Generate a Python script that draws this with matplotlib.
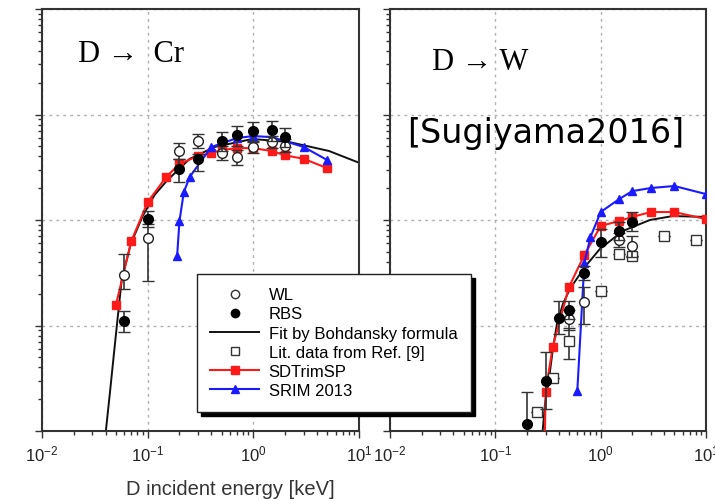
import matplotlib
matplotlib.use("Agg")
import matplotlib.pyplot as plt
from matplotlib.lines import Line2D
import numpy as np

plt.rcParams['font.family'] = ['Liberation Sans', 'DejaVu Sans']
plt.rcParams['mathtext.fontset'] = 'custom'
plt.rcParams['mathtext.rm'] = 'Liberation Sans'
plt.rcParams['mathtext.default'] = 'regular'

# ---------------- D -> Cr (left panel) ----------------
cr_fit_E = [0.039, 0.0402, 0.0439, 0.0478, 0.0521, 0.0569, 0.0692, 0.0897, 0.1164, 0.151, 0.249, 0.429, 0.98, 2.19, 5.2, 9.57, 12.0]
cr_fit_Y = [7e-6, 1e-5, 2.29e-5, 5.25e-5, 1.2e-4, 2.76e-4, 5.93e-4, 1.09e-3, 1.73e-3, 2.34e-3, 3.79e-3, 4.92e-3, 5.86e-3, 5.48e-3, 4.51e-3, 3.55e-3, 3.3e-3]

cr_sdt_E = [0.05, 0.07, 0.1, 0.15, 0.2, 0.3, 0.4, 0.5, 0.7, 1, 1.5, 2, 3, 5]
cr_sdt_Y = [1.56e-4, 6.3e-4, 1.48e-3, 2.56e-3, 3.4e-3, 4.05e-3, 4.3e-3, 4.6e-3, 4.8e-3, 4.8e-3, 4.5e-3, 4.1e-3, 3.8e-3, 3.1e-3]

cr_srim_E = [0.19, 0.2, 0.22, 0.25, 0.4, 0.7, 1, 1.5, 3, 5]
cr_srim_Y = [4.56e-4, 9.8e-4, 1.84e-3, 2.56e-3, 4.92e-3, 5.98e-3, 6.25e-3, 6.1e-3, 4.92e-3, 3.7e-3]

cr_rbs_E = [0.06, 0.1, 0.2, 0.3, 0.5, 0.7, 1, 1.5, 2]
cr_rbs_Y = [1.10e-4, 1.02e-3, 3.04e-3, 3.79e-3, 5.61e-3, 6.40e-3, 6.98e-3, 7.1e-3, 6.12e-3]
cr_rbs_lo = [8.67e-5, 8.59e-4, 2.29e-3, 2.91e-3, 4.51e-3, 5.03e-3, 5.48e-3, 5.61e-3, 4.92e-3]
cr_rbs_hi = [1.37e-4, 1.22e-3, 3.79e-3, 4.23e-3, 6.83e-3, 7.78e-3, 8.49e-3, 8.67e-3, 7.45e-3]

cr_wl_E = [0.06, 0.1, 0.2, 0.3, 0.5, 0.7, 1, 1.5, 2]
cr_wl_Y = [3.01e-4, 6.74e-4, 4.51e-3, 5.61e-3, 4.32e-3, 3.96e-3, 4.92e-3, 5.48e-3, 5.03e-3]
cr_wl_lo = [2.22e-4, 2.64e-4, 3.8e-3, 4.8e-3, 3.7e-3, 3.3e-3, 4.3e-3, 4.8e-3, 4.4e-3]
cr_wl_hi = [4.77e-4, 9.16e-4, 5.4e-3, 6.6e-3, 5.0e-3, 4.6e-3, 5.6e-3, 6.2e-3, 5.8e-3]

# ---------------- D -> W (right panel) ----------------
w_fit_E = [0.277, 0.296, 0.323, 0.352, 0.384, 0.438, 0.51, 0.708, 0.982, 1.625, 2.93, 4.84, 9.75, 12.0]
w_fit_Y = [8.4e-6, 1.80e-5, 3.11e-5, 5.98e-5, 1.03e-4, 1.60e-4, 2.22e-4, 3.59e-4, 5.31e-4, 7.87e-4, 1.0e-3, 1.09e-3, 1.07e-3, 1.06e-3]

w_sdt_E = [0.29, 0.3, 0.35, 0.5, 0.7, 1, 1.5, 2, 3, 5, 10]
w_sdt_Y = [3e-6, 2.34e-5, 6.25e-5, 2.32e-4, 4.66e-4, 8.77e-4, 9.8e-4, 1.07e-3, 1.19e-3, 1.19e-3, 1.02e-3]

w_srim_E = [0.6, 0.7, 0.8, 1, 1.5, 2, 3, 5, 10]
w_srim_Y = [2.39e-5, 3.91e-4, 6.9e-4, 1.19e-3, 1.58e-3, 1.88e-3, 2.01e-3, 2.1e-3, 1.76e-3]

w_rbs_E = [0.2, 0.3, 0.4, 0.5, 0.7, 1, 1.5, 2]
w_rbs_Y = [1.16e-5, 2.98e-5, 1.18e-4, 1.40e-4, 3.15e-4, 6.18e-4, 7.87e-4, 9.57e-4]
w_rbs_lo = [6e-6, 1.6e-5, 8.3e-5, 1.15e-4, 2.7e-4, 4.46e-4, 6.5e-4, 7.8e-4]
w_rbs_hi = [2.34e-5, 5.6e-5, 1.71e-4, 1.7e-4, 3.7e-4, 8.2e-4, 9.5e-4, 1.2e-3]

w_wl_E = [0.5, 0.7, 1.5, 2]
w_wl_Y = [1.15e-4, 1.67e-4, 6.45e-4, 5.68e-4]
w_wl_lo = [9e-5, 1.03e-4, 5.5e-4, 4.5e-4]
w_wl_hi = [1.4e-4, 2.3e-4, 7.6e-4, 7.0e-4]

w_lit_E = [0.25, 0.35, 0.5, 1, 1.5, 2, 4, 8]
w_lit_Y = [1.51e-5, 3.18e-5, 7.13e-5, 2.12e-4, 4.77e-4, 4.56e-4, 7.05e-4, 6.45e-4]
w_lit_lo = [1.51e-5, 3.18e-5, 4.8e-5, 2.12e-4, 4.77e-4, 4.56e-4, 7.05e-4, 6.45e-4]
w_lit_hi = [1.51e-5, 3.18e-5, 9.5e-5, 2.12e-4, 4.77e-4, 4.56e-4, 7.05e-4, 6.45e-4]

xtick_vals = [1e-2, 1e-1, 1e0, 1e1]
xtick_labels = ['10$^{-2}$', '10$^{-1}$', '10$^{0}$', '10$^{1}$']

legend_labels = ['WL', 'RBS', 'Fit by Bohdansky formula', 'Lit. data from Ref. [9]', 'SDTrimSP', 'SRIM 2013']

RED = '#ff1a1a'
BLUE = '#1a1aff'
W, H = 715, 502
fig = plt.figure(figsize=(W / 100, H / 100), dpi=100)

ax1 = fig.add_axes([42 / W, 1 - 432 / H, 317 / W, 422 / H])
ax2 = fig.add_axes([390 / W, 1 - 432 / H, 316 / W, 422 / H])


def yerr(y, lo, hi):
    y = np.asarray(y); lo = np.asarray(lo); hi = np.asarray(hi)
    return [y - lo, hi - y]


def style(ax):
    ax.set_xscale('log')
    ax.set_yscale('log')
    ax.set_xlim(1e-2, 1e1)
    ax.set_ylim(1e-5, 1e-1)
    ax.set_xticks(xtick_vals)
    ax.set_xticklabels(xtick_labels)
    ax.grid(True, which='major', color='#b0b0b0', ls=(0, (2, 3)), lw=1.0)
    ax.tick_params(which='both', direction='out', color='#333333', width=1.0)
    ax.tick_params(which='major', length=5)
    ax.tick_params(which='minor', length=3)
    ax.tick_params(axis='y', labelleft=False)
    ax.tick_params(axis='x', labelsize=12, labelcolor='#222222', pad=4)
    for s in ax.spines.values():
        s.set_color('#333333')
        s.set_linewidth(1.5)


for ax in (ax1, ax2):
    style(ax)

# left panel
ax1.plot(cr_fit_E, cr_fit_Y, color='#111111', lw=1.4, zorder=2)
ax1.plot(cr_sdt_E, cr_sdt_Y, color=RED, lw=1.5, marker='s', ms=5.5, zorder=3)
ax1.plot(cr_srim_E, cr_srim_Y, color=BLUE, lw=1.5, marker='^', ms=6, zorder=3)
ax1.errorbar(cr_wl_E, cr_wl_Y, yerr=yerr(cr_wl_Y, cr_wl_lo, cr_wl_hi), fmt='o', mfc='white',
             mec='#222222', ecolor='#333333', ms=7, capsize=4, elinewidth=1.2, zorder=5)
ax1.errorbar(cr_rbs_E, cr_rbs_Y, yerr=yerr(cr_rbs_Y, cr_rbs_lo, cr_rbs_hi), fmt='o', mfc='black',
             mec='black', ecolor='#333333', ms=7, capsize=4, elinewidth=1.2, zorder=6)

# right panel
ax2.plot(w_fit_E, w_fit_Y, color='#111111', lw=1.4, zorder=2)
ax2.plot(w_sdt_E, w_sdt_Y, color=RED, lw=1.5, marker='s', ms=5.5, zorder=3)
ax2.plot(w_srim_E, w_srim_Y, color=BLUE, lw=1.5, marker='^', ms=6, zorder=3)
ax2.errorbar(w_lit_E, w_lit_Y, yerr=yerr(w_lit_Y, w_lit_lo, w_lit_hi), fmt='s', mfc='white',
             mec='#333333', ecolor='#333333', ms=7, capsize=4, elinewidth=1.2, zorder=4)
ax2.errorbar(w_wl_E, w_wl_Y, yerr=yerr(w_wl_Y, w_wl_lo, w_wl_hi), fmt='o', mfc='white',
             mec='#222222', ecolor='#333333', ms=7, capsize=4, elinewidth=1.2, zorder=5)
ax2.errorbar(w_rbs_E, w_rbs_Y, yerr=yerr(w_rbs_Y, w_rbs_lo, w_rbs_hi), fmt='o', mfc='black',
             mec='black', ecolor='#333333', ms=7, capsize=4, elinewidth=1.2, zorder=6)

# legend
handles = [
    Line2D([], [], ls='none', marker='o', mfc='white', mec='#333333', ms=6),
    Line2D([], [], ls='none', marker='o', mfc='black', mec='black', ms=6),
    Line2D([], [], color='#111111', lw=1.4),
    Line2D([], [], ls='none', marker='s', mfc='white', mec='#333333', ms=6),
    Line2D([], [], color=RED, lw=1.5, marker='s', ms=6),
    Line2D([], [], color=BLUE, lw=1.5, marker='^', ms=6),
]
fig.legend(handles, legend_labels, loc='upper left', bbox_to_anchor=(197 / W, 1 - 275 / H),
           bbox_transform=fig.transFigure, borderaxespad=0, fancybox=False, edgecolor='#222222',
           framealpha=1, shadow={'ox': 3, 'oy': -3, 'facecolor': 'black', 'edgecolor': 'black', 'alpha': 1},
           fontsize=12, handlelength=2.9, handletextpad=0.6, borderpad=0.8, labelspacing=0.25)

# texts
fig.text(230 / W, 1 - 490 / H, 'D incident energy [keV]', ha='center', va='center', fontsize=14.5, color='#333333')
fig.text(78 / W, 1 - 54 / H, 'D \u2192  Cr', ha='left', va='center', fontsize=22,
         family=['Liberation Serif', 'DejaVu Serif'])
fig.text(432 / W, 1 - 63 / H, 'D \u2192 W', ha='left', va='center', fontsize=22,
         family=['Liberation Serif', 'DejaVu Serif'])
fig.text(407 / W, 1 - 133 / H, '[Sugiyama2016]', ha='left', va='center', fontsize=24,
         family=['DejaVu Sans'])

fig.savefig('out.png', dpi=100)
